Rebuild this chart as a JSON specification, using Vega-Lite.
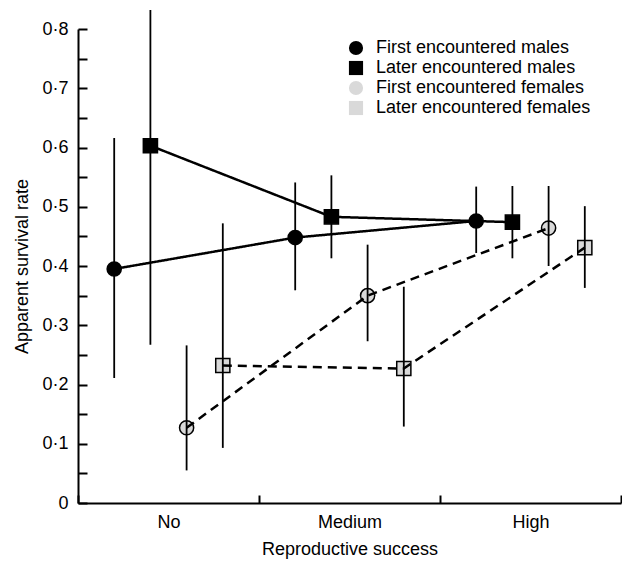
{
  "$schema": "https://vega.github.io/schema/vega-lite/v6.json",
  "width": 543,
  "height": 474,
  "autosize": "none",
  "padding": {"left": 78, "top": 29, "right": 1, "bottom": 58},
  "background": "white",
  "config": {
    "font": "Liberation Sans",
    "view": {"stroke": null},
    "axis": {"grid": false, "domainColor": "black", "tickColor": "black", "labelColor": "black", "titleColor": "black", "domainWidth": 2, "tickWidth": 2, "labelFontSize": 18, "titleFontSize": 18, "titleFontWeight": "normal"}
  },
  "data": {
    "values": [
      {"success": "No", "series": "First encountered males", "sex": "males", "rate": 0.395, "lower": 0.211, "upper": 0.616},
      {"success": "Medium", "series": "First encountered males", "sex": "males", "rate": 0.448, "lower": 0.359, "upper": 0.541},
      {"success": "High", "series": "First encountered males", "sex": "males", "rate": 0.476, "lower": 0.422, "upper": 0.534},
      {"success": "No", "series": "Later encountered males", "sex": "males", "rate": 0.603, "lower": 0.267, "upper": 0.832},
      {"success": "Medium", "series": "Later encountered males", "sex": "males", "rate": 0.483, "lower": 0.413, "upper": 0.553},
      {"success": "High", "series": "Later encountered males", "sex": "males", "rate": 0.474, "lower": 0.413, "upper": 0.535},
      {"success": "No", "series": "First encountered females", "sex": "females", "rate": 0.127, "lower": 0.055, "upper": 0.266},
      {"success": "Medium", "series": "First encountered females", "sex": "females", "rate": 0.35, "lower": 0.273, "upper": 0.436},
      {"success": "High", "series": "First encountered females", "sex": "females", "rate": 0.464, "lower": 0.4, "upper": 0.535},
      {"success": "No", "series": "Later encountered females", "sex": "females", "rate": 0.232, "lower": 0.093, "upper": 0.472},
      {"success": "Medium", "series": "Later encountered females", "sex": "females", "rate": 0.227, "lower": 0.129, "upper": 0.365},
      {"success": "High", "series": "Later encountered females", "sex": "females", "rate": 0.431, "lower": 0.363, "upper": 0.501}
    ]
  },
  "encoding": {
    "x": {
      "field": "success", "type": "nominal", "sort": ["No", "Medium", "High"],
      "scale": {"type": "band", "paddingInner": 0, "paddingOuter": 0},
      "axis": {"title": "Reproductive success", "labelAngle": 0, "tickBand": "extent", "tickSize": -8, "labelPadding": 18, "titlePadding": 9}
    },
    "xOffset": {
      "field": "series", "type": "nominal",
      "sort": ["First encountered males", "Later encountered males", "First encountered females", "Later encountered females"],
      "scale": {"type": "point", "padding": 2.27}
    },
    "y": {
      "field": "rate", "type": "quantitative",
      "scale": {"domain": [0, 0.8], "nice": false, "zero": true},
      "axis": {
        "title": "Apparent survival rate",
        "values": [0, 0.05, 0.1, 0.15, 0.2, 0.25, 0.3, 0.35, 0.4, 0.45, 0.5, 0.55, 0.6, 0.65, 0.7, 0.75, 0.8],
        "labelExpr": "round(datum.value * 20) % 2 === 1 ? '' : (datum.value === 0 ? '0' : replace(format(datum.value, '.1f'), '.', '·'))",
        "tickSize": -9, "labelPadding": 19, "titlePadding": 10
      }
    }
  },
  "layer": [
    {
      "mark": {"type": "point", "filled": false, "stroke": "black", "strokeWidth": 1.5, "size": 200, "opacity": 1},
      "encoding": {
        "shape": {
          "field": "series", "type": "nominal",
          "scale": {"domain": ["First encountered males", "Later encountered males", "First encountered females", "Later encountered females"], "range": ["circle", "square", "circle", "square"]},
          "legend": {
            "title": null, "orient": "none", "legendX": 269, "legendY": 10,
            "labelFontSize": 18, "labelColor": "black", "labelOffset": 11, "labelLimit": 0, "rowPadding": -4,
            "symbolSize": 200, "symbolStrokeColor": "black", "symbolStrokeWidth": 1.5, "symbolOpacity": 1,
            "encode": {"symbols": {
              "fill": {"value": {"expr": "indexOf(datum.value, 'females') > 0 ? '#d9d9d9' : 'black'"}},
              "stroke": {"value": {"expr": "'black'"}},
              "strokeWidth": {"value": 1.5}
            }}
          }
        },
        "fill": {
          "field": "series", "type": "nominal",
          "scale": {"domain": ["First encountered males", "Later encountered males", "First encountered females", "Later encountered females"], "range": ["black", "black", "#d9d9d9", "#d9d9d9"]},
          "legend": null
        }
      }
    },
    {
      "mark": {"type": "line", "color": "black", "strokeWidth": 2.5},
      "encoding": {
        "detail": {"field": "series", "type": "nominal"},
        "strokeDash": {
          "field": "sex", "type": "nominal",
          "scale": {"domain": ["males", "females"], "range": [[1, 0], [9, 6]]},
          "legend": null
        }
      }
    },
    {
      "mark": {"type": "rule", "color": "black", "strokeWidth": 1.8},
      "encoding": {
        "y": {"field": "lower", "type": "quantitative"},
        "y2": {"field": "upper"}
      }
    }
  ]
}
